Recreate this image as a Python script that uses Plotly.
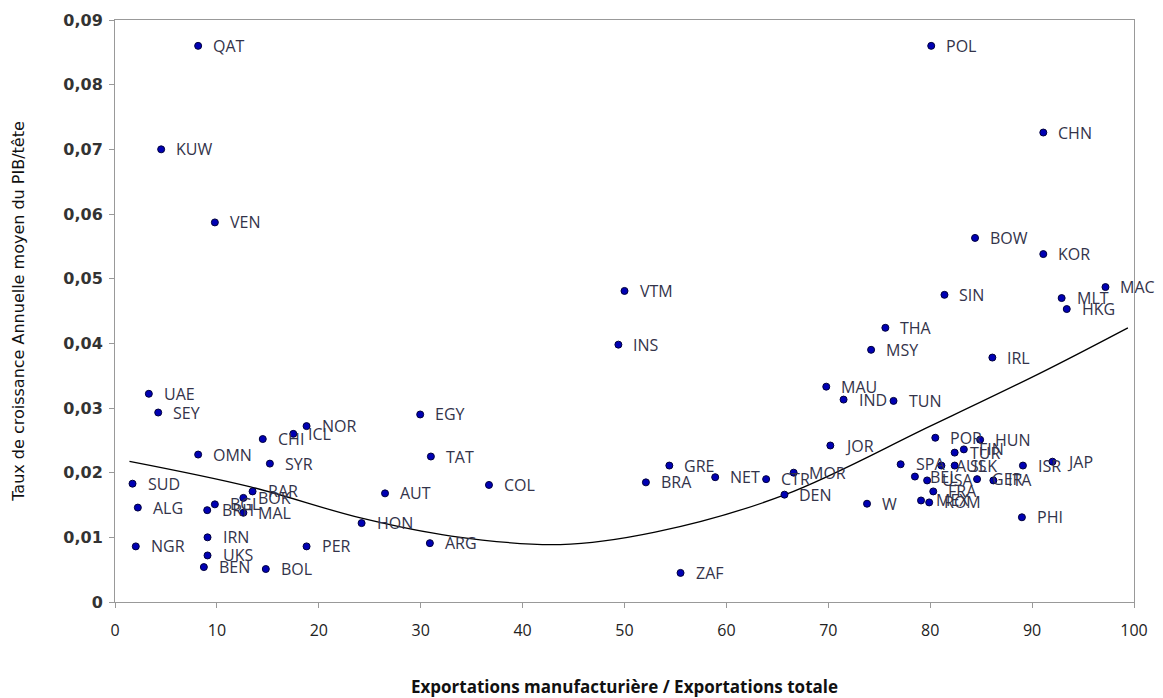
import plotly.graph_objects as go

countries = ["QAT", "KUW", "VEN", "UAE", "SEY", "NOR", "ICL", "CHI", "OMN", "SYR",
             "SUD", "RAR", "BOK", "BGL", "BRH", "MAL", "ALG", "HON", "NGR", "IRN",
             "UKS", "BEN", "BOL", "PER", "AUT", "EGY", "TAT", "COL", "ARG", "VTM",
             "INS", "GRE", "BRA", "NET", "CTR", "MOR", "DEN", "ZAF", "JOR", "THA",
             "MSY", "MAU", "IND", "TUN", "POL", "CHN", "BOW", "KOR", "MAC", "MLT",
             "HKG", "SIN", "IRL", "POR", "HUN", "TUR", "FIN", "SPA", "AUS", "SLK",
             "ISR", "JAP", "BEL", "USA", "GER", "ITA", "FRA", "MEX", "ROM", "W",
             "PHI"]

x_manuf = [8.16, 4.53, 9.80, 3.32, 4.24, 18.8, 17.5, 14.5, 8.16, 15.2,
           1.72, 13.5, 12.6, 9.8, 9.05, 12.6, 2.24, 24.2, 2.04, 9.08,
           9.08, 8.72, 14.8, 18.8, 26.5, 29.95, 31.0, 36.7, 30.9, 50.0,
           49.4, 54.4, 52.1, 58.9, 63.9, 66.6, 65.7, 55.5, 70.2, 75.6,
           74.2, 69.8, 71.5, 76.4, 80.1, 91.1, 84.4, 91.1, 97.2, 92.9,
           93.4, 81.4, 86.1, 80.5, 84.9, 82.4, 83.3, 77.1, 81.1, 82.4,
           89.1, 92.0, 78.5, 79.7, 84.6, 86.2, 80.3, 79.1, 79.9, 73.8,
           89.0]

y_growth = [0.0860, 0.0700, 0.0587, 0.0322, 0.0293, 0.0272, 0.0260, 0.0252, 0.0228, 0.0214,
            0.0183, 0.0171, 0.0161, 0.0151, 0.0142, 0.0138, 0.0146, 0.0122, 0.0086, 0.0100,
            0.0072, 0.0054, 0.0051, 0.0086, 0.0168, 0.0290, 0.0225, 0.0181, 0.0091, 0.0481,
            0.0398, 0.0211, 0.0185, 0.0193, 0.0190, 0.0200, 0.0166, 0.0045, 0.0242, 0.0424,
            0.0390, 0.0333, 0.0313, 0.0311, 0.0860, 0.0726, 0.0563, 0.0538, 0.0487, 0.0470,
            0.0453, 0.0475, 0.0378, 0.0254, 0.0251, 0.0231, 0.0236, 0.0213, 0.0211, 0.0211,
            0.0211, 0.0217, 0.0194, 0.0188, 0.0190, 0.0188, 0.0171, 0.0157, 0.0154, 0.0152,
            0.0131]

# trend line (as drawn in the reference)
trend_x = [1.42, 13.3, 24.1, 33.0, 43.7, 53.0, 65.7, 80.0, 90.8, 99.4]
trend_y = [0.02175, 0.0178, 0.0130, 0.0102, 0.00888, 0.0108, 0.01656, 0.0272, 0.0354, 0.0424]

x_ticks = [0, 10, 20, 30, 40, 50, 60, 70, 80, 90, 100]
y_ticks = [0, 0.01, 0.02, 0.03, 0.04, 0.05, 0.06, 0.07, 0.08, 0.09]
y_tick_labels = ["0", "0,01", "0,02", "0,03", "0,04", "0,05", "0,06", "0,07", "0,08", "0,09"]

x_title = "Exportations manufacturière / Exportations totale"
y_title = "Taux de croissance Annuelle moyen du PIB/tête"

fig = go.Figure()
fig.add_trace(go.Scatter(
    x=trend_x, y=trend_y, mode="lines",
    line=dict(color="black", width=1.3, shape="spline", smoothing=1.0),
    hoverinfo="skip", showlegend=False))
fig.add_trace(go.Scatter(
    x=x_manuf, y=y_growth, mode="markers",
    marker=dict(color="#0000b4", size=7, line=dict(color="#00003c", width=1)),
    showlegend=False, cliponaxis=False))

for name, xv, yv in zip(countries, x_manuf, y_growth):
    fig.add_annotation(
        x=xv, y=yv, text=name, showarrow=False,
        xanchor="left", yanchor="middle", xshift=13,
        font=dict(family="Open Sans", size=16, color="#33334a"))

fig.update_layout(
    width=1163, height=698,
    margin=dict(l=115, r=29, t=20, b=96),
    paper_bgcolor="white", plot_bgcolor="white",
    font=dict(family="Open Sans", color="#222"),
    xaxis=dict(
        range=[0, 100], tickvals=x_ticks,
        showgrid=False, zeroline=False, automargin=False,
        showline=True, linecolor="#999", linewidth=1, mirror=True,
        ticks="outside", ticklen=5, tickcolor="#999",
        ticklabelstandoff=9,
        tickfont=dict(family="Open Sans", size=16, color="#222"),
        title=dict(text=x_title, font=dict(family="Open Sans", size=17, color="#111", weight="bold"), standoff=45),
    ),
    yaxis=dict(
        range=[0, 0.09], tickvals=y_ticks, ticktext=y_tick_labels,
        showgrid=False, zeroline=False, automargin=False,
        showline=True, linecolor="#999", linewidth=1, mirror=True,
        ticks="outside", ticklen=5, tickcolor="#999",
        ticklabelstandoff=3,
        tickfont=dict(family="DejaVu Sans", size=16, color="#333", weight="bold"),
        title=dict(text=y_title, font=dict(family="DejaVu Sans", size=16, color="#111"), standoff=34),
    ),
)

fig.write_html("out.html", config={"displayModeBar": False},
               post_script="document.body.style.margin='0';document.body.style.overflow='hidden';")
